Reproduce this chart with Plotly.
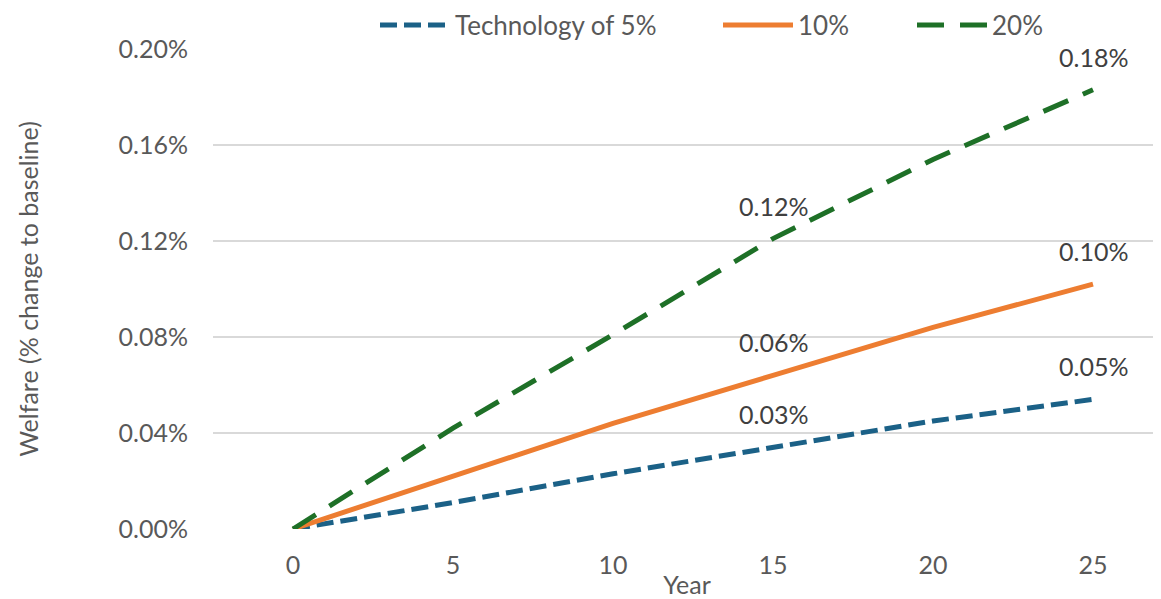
import plotly.graph_objects as go

years = [0, 5, 10, 15, 20, 25]
tech5 = [0.0, 0.011, 0.023, 0.034, 0.045, 0.054]
tech10 = [0.0, 0.022, 0.044, 0.064, 0.084, 0.102]
tech20 = [0.0, 0.042, 0.081, 0.121, 0.154, 0.183]
names = ["Technology of 5%", "10%", "20%"]
colors = ["#1B6187", "#ED7D31", "#1E7027"]
dashes = ["17px,7px", "solid", "27px,16px"]
label_years = [15, 25]
ytick_vals = [0, 0.04, 0.08, 0.12, 0.16, 0.20]
ytick_text = [f"{v:.2f}%" for v in ytick_vals]
xtick_vals = [0, 5, 10, 15, 20, 25]

FONT = "Lato"
FW, FH = 1153, 591  # page body has an 8px margin
fig = go.Figure()
series = [tech5, tech10, tech20]
legend_ids = ["legend2", "legend3", "legend4"]
for s, n, c, d, lg in zip(series, names, colors, dashes, legend_ids):
    fig.add_trace(go.Scatter(x=years, y=s, mode="lines", name=n,
                             line=dict(color=c, width=5, dash=d),
                             legend=lg, showlegend=True))
    for yr in label_years:
        v = s[years.index(yr)]
        fig.add_annotation(x=yr, y=v, text=f"{v:.2f}%", showarrow=False,
                           yshift=33, font=dict(family=FONT, size=25, color="#404040"))

def leg(xpx):
    return dict(orientation="h", yanchor="middle", xanchor="left",
                xref="container", yref="container",
                x=(xpx - 8) / FW, y=1 - (25 - 8) / FH,
                bgcolor="rgba(0,0,0,0)", itemwidth=70,
                font=dict(family=FONT, size=26, color="#595959"))

fig.update_layout(
    width=FW, height=FH,
    showlegend=True,
    margin=dict(l=205, r=0, t=41, b=70, autoexpand=False),
    paper_bgcolor="white", plot_bgcolor="white",
    font=dict(family=FONT, size=25, color="#595959"),
    legend2=leg(375),
    legend3=leg(718),
    legend4=leg(912),
    xaxis=dict(range=[-2.5, 27.125], tickvals=xtick_vals, showgrid=False,
               zeroline=False, showline=False, ticks="", automargin=False,
               ticklabelstandoff=19,
               tickfont=dict(family=FONT, size=25, color="#595959"),
               title=dict(text="Year", standoff=5,
                          font=dict(family=FONT, size=25, color="#595959"))),
    yaxis=dict(range=[0, 0.2], tickvals=ytick_vals, ticktext=ytick_text,
               showgrid=True, gridcolor="#D9D9D9", gridwidth=2,
               zeroline=False, showline=False, ticks="", automargin=False,
               ticklabelstandoff=24,
               tickfont=dict(family=FONT, size=25, color="#595959"),
               title=dict(text="Welfare (% change to baseline)", standoff=72,
                          font=dict(family=FONT, size=25, color="#595959"))),
)
fig.write_html("out.html")
